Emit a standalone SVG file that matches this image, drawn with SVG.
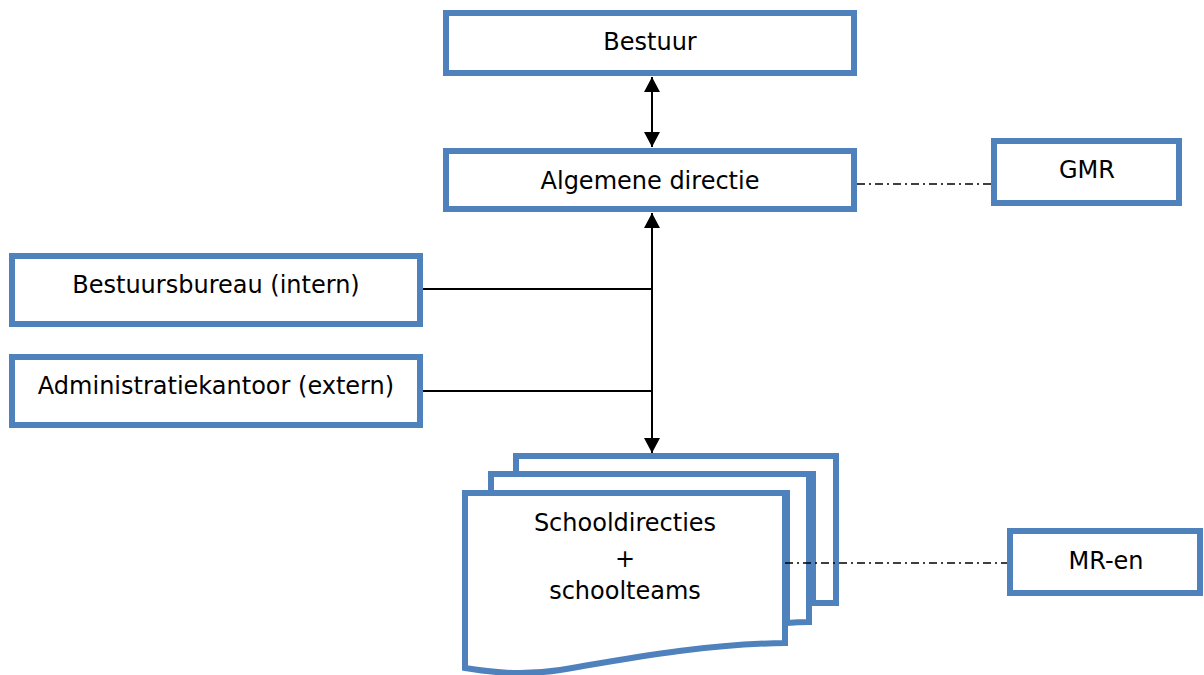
<svg xmlns="http://www.w3.org/2000/svg" width="1204" height="675" viewBox="0 0 1204 675">
<style>
.box{fill:#fff;stroke:#4F81BD;stroke-width:6}
.t{font-family:"DejaVu Sans",Verdana,sans-serif;font-size:24px;fill:#000;text-anchor:middle}
.ln{stroke:#000;stroke-width:2;fill:none}
.dd{stroke:#000;stroke-width:1.6;fill:none;stroke-dasharray:8 4 2 4}
</style>
<defs>
<marker id="ah" markerUnits="userSpaceOnUse" markerWidth="16" markerHeight="16" refX="15" refY="8" orient="auto-start-reverse" viewBox="0 0 16 16">
<path d="M0,0 L15,8 L0,16 Z" fill="#000"/>
</marker>
</defs>
<g id="connectors">
<line class="ln" x1="652" y1="77" x2="652" y2="147" marker-start="url(#ah)" marker-end="url(#ah)"/>
<line class="ln" x1="652" y1="213" x2="652" y2="453" marker-start="url(#ah)" marker-end="url(#ah)"/>
<line class="ln" x1="423" y1="289" x2="652" y2="289"/>
<line class="ln" x1="423" y1="391" x2="652" y2="391"/>
<line class="dd" x1="857" y1="184" x2="991" y2="184"/>
</g>
<g id="bestuur">
<rect class="box" x="446" y="13" width="408" height="60"/>
<text class="t" x="650" y="50">Bestuur</text>
</g>
<g id="algemene-directie">
<rect class="box" x="446" y="151" width="408" height="58"/>
<text class="t" x="650" y="189">Algemene directie</text>
</g>
<g id="gmr">
<rect class="box" x="994" y="141" width="185" height="62"/>
<text class="t" x="1087" y="178">GMR</text>
</g>
<g id="bestuursbureau">
<rect class="box" x="12" y="256" width="408" height="68"/>
<text class="t" x="216" y="293">Bestuursbureau (intern)</text>
</g>
<g id="administratiekantoor">
<rect class="box" x="12" y="357" width="408" height="68"/>
<text class="t" x="216" y="394">Administratiekantoor (extern)</text>
</g>
<g id="schooldirecties">
<path class="box" d="M516,456 H836 V603 H813 V474 H516 Z"/>
<path class="box" d="M491,474 H809 V622 Q798,622 787,623 V493 H491 Z"/>
<path class="box" d="M465,493 H785 V643 C700,644 620,660 560,670 C520,676 490,672 465,668 Z"/>
<text class="t" x="625" y="531">Schooldirecties</text>
<text class="t" x="625" y="567">+</text>
<text class="t" x="625" y="599">schoolteams</text>
</g>
<g id="mr-en">
<rect class="box" x="1010" y="531" width="190" height="62"/>
<text class="t" x="1106" y="569">MR-en</text>
</g>
<g id="connectors-over">
<line class="dd" x1="785" y1="563" x2="1007" y2="563"/>
</g>
</svg>
